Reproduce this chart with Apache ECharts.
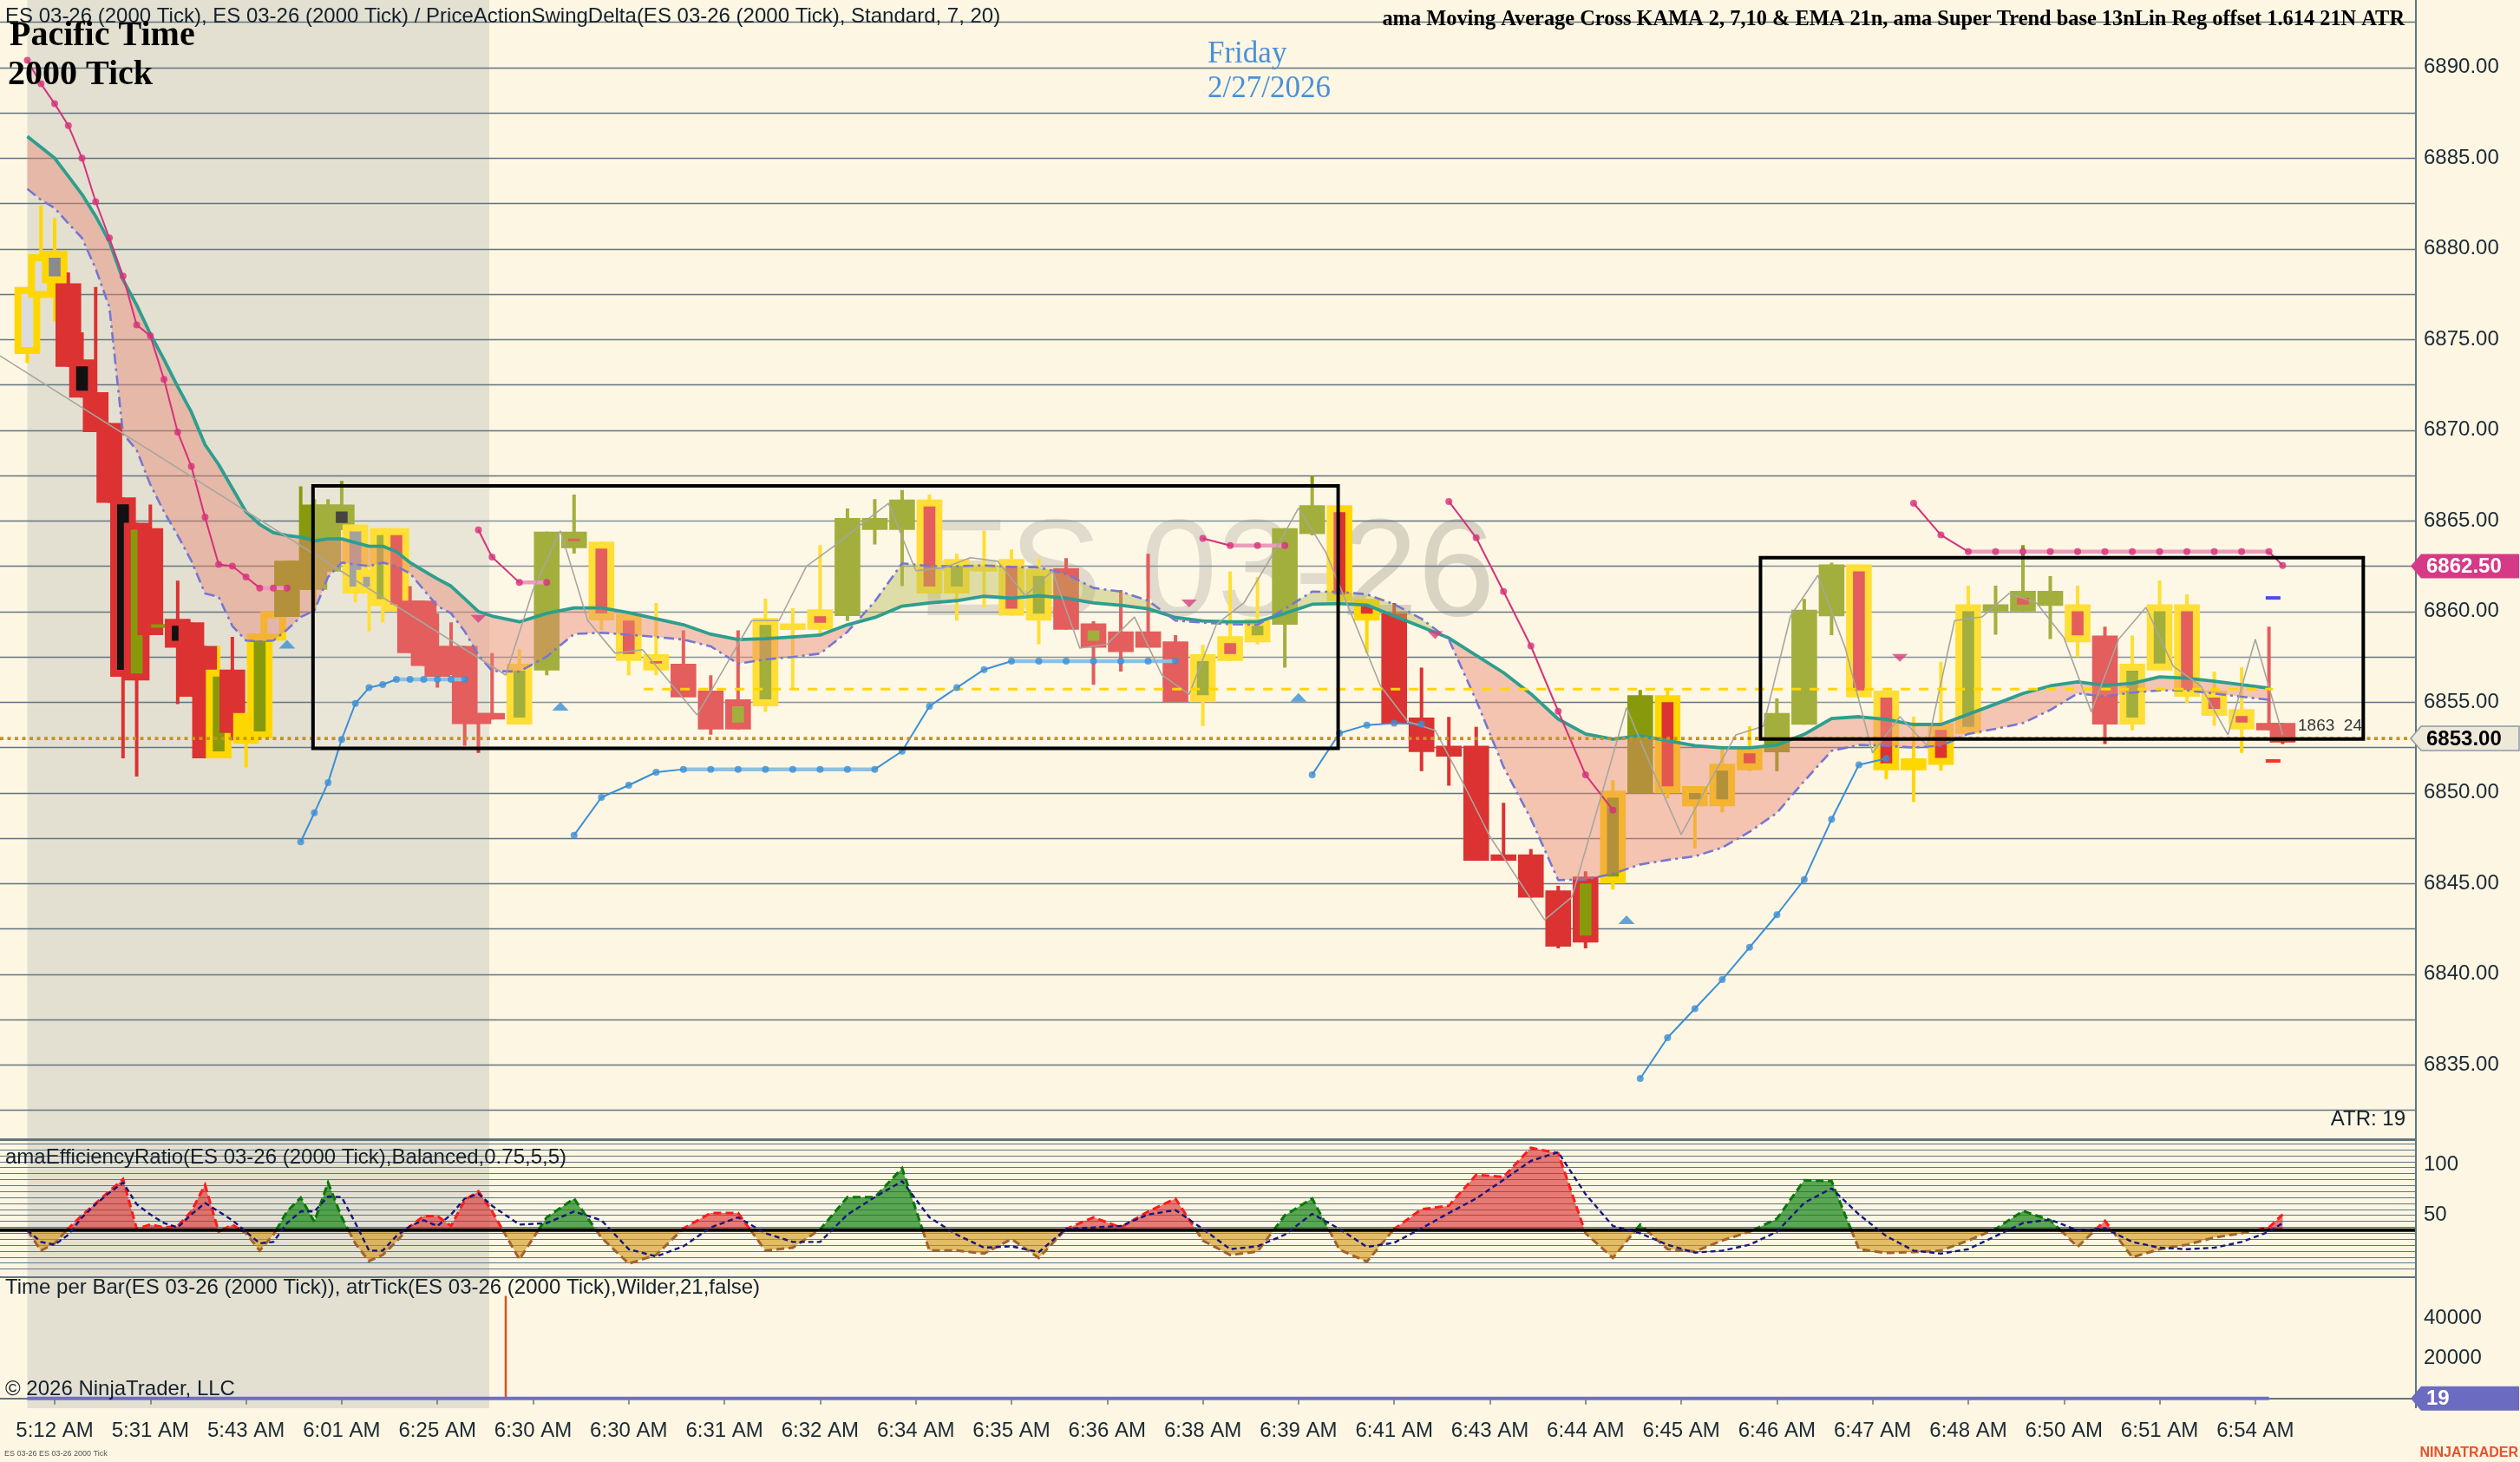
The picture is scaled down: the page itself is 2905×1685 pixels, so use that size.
<!DOCTYPE html>
<html>
<head>
<meta charset="utf-8">
<title>ES 03-26 (2000 Tick)</title>
<script src="https://cdn.jsdelivr.net/npm/echarts@6.0.0/dist/echarts.min.js"></script>
<style>
html,body{margin:0;padding:0;background:#FDF6E3;overflow:hidden;}
#chart{width:2905px;height:1685px;}
</style>
</head>
<body>
<div id="chart"></div>
<script>
// ------------------------------------------------------------------ data
const timeLabels = ['5:12 AM','5:31 AM','5:43 AM','6:01 AM','6:25 AM','6:30 AM','6:30 AM','6:31 AM','6:32 AM','6:34 AM','6:35 AM','6:36 AM','6:38 AM','6:39 AM','6:41 AM','6:43 AM','6:44 AM','6:45 AM','6:46 AM','6:47 AM','6:48 AM','6:50 AM','6:51 AM','6:54 AM'];

// [open, close, low, high]
const ohlc = [
  [6874.2,6877.9,6873.7,6877.9],[6877.3,6879.7,6877.3,6882.4],[6879.9,6878.1,6876.0,6881.7],[6878.1,6873.5,6873.5,6878.7],
  [6873.9,6871.8,6871.8,6875.4],[6872.1,6869.9,6869.9,6877.9],[6870.4,6866.0,6866.0,6870.4],[6866.3,6856.4,6851.9,6866.3],
  [6864.9,6856.2,6850.9,6864.9],[6864.6,6858.7,6858.7,6865.9],[6859.1,6859.3,6859.1,6859.3],[6859.6,6858.0,6854.9,6861.7],
  [6859.4,6855.3,6855.3,6859.4],[6858.1,6851.9,6851.9,6858.1],[6851.9,6856.8,6851.9,6858.1],[6856.8,6853.3,6852.9,6858.6],
  [6852.7,6854.4,6851.4,6854.4],[6853.0,6858.8,6853.0,6858.8],[6858.4,6860.0,6858.4,6860.0],[6859.7,6862.8,6859.7,6862.8],
  [6861.2,6862.8,6861.2,6866.9],[6861.2,6865.9,6860.1,6866.2],[6862.2,6865.9,6862.2,6866.2],[6864.5,6865.9,6864.5,6867.2],
  [6864.8,6861.0,6860.5,6864.8],[6862.3,6861.0,6858.9,6862.3],[6860.3,6864.6,6859.4,6864.6],[6864.6,6860.0,6860.0,6864.6],
  [6860.6,6857.7,6857.7,6861.4],[6860.6,6857.0,6857.0,6860.6],[6858.1,6856.4,6855.8,6859.9],[6858.1,6856.5,6856.5,6859.4],
  [6858.1,6853.8,6852.6,6858.1],[6854.4,6853.8,6852.2,6854.4],
  [6854.4,6854.05,6854.05,6857.7],[6853.77,6857.12,6853.77,6857.92],[6856.75,6864.41,6856.48,6864.41],[6863.5,6864.41,6863.2,6866.45],
  [6863.85,6859.51,6858.96,6863.85],[6859.88,6857.28,6856.48,6859.88],[6857.65,6856.75,6856.48,6860.47],[6857.12,6855.26,6855.26,6858.96],
  [6855.64,6853.5,6853.21,6856.48],[6853.5,6855.16,6853.5,6858.96],[6854.78,6859.64,6854.46,6860.71],[6858.99,6859.35,6855.72,6860.18],
  [6860.12,6859.0,6858.8,6863.66],[6859.75,6865.16,6859.48,6865.69],[6864.5,6865.16,6863.7,6866.2],[6864.5,6866.18,6861.4,6866.7],
  [6866.18,6861.0,6861.0,6866.45],[6861.0,6862.9,6859.5,6863.18],[6862.2,6862.6,6860.2,6864.46],[6862.9,6859.78,6859.78,6863.42],
  [6859.5,6862.35,6858.2,6862.94],[6862.38,6859.0,6859.0,6862.94],[6858.0,6859.35,6855.96,6859.46],[6858.9,6857.76,6856.69,6861.19],
  [6858.9,6858.0,6858.0,6863.18],[6858.35,6855.0,6855.0,6858.7],[6855.0,6857.65,6853.69,6858.16],[6858.64,6857.28,6857.28,6862.2],
  [6858.3,6859.6,6858.2,6861.9],[6859.27,6864.6,6856.9,6864.6],[6864.27,6865.86,6864.2,6867.49],[6865.86,6860.55,6860.55,6865.86],
  [6860.7,6859.5,6857.7,6860.7],[6859.91,6853.8,6853.8,6860.47],[6854.15,6852.25,6851.2,6856.9],[6852.6,6852.0,6850.4,6854.19],
  [6852.6,6846.26,6846.26,6853.64],[6846.6,6846.26,6846.26,6849.45],[6846.6,6844.23,6844.23,6846.9],[6844.62,6841.52,6841.43,6844.87],
  [6841.75,6845.38,6841.43,6845.67],[6845.0,6850.12,6844.67,6850.7],[6849.98,6855.38,6849.98,6855.67],[6855.38,6849.98,6849.69,6855.67],
  [6849.26,6850.37,6846.93,6850.37],[6849.26,6851.6,6848.92,6852.4],[6852.56,6851.25,6851.2,6853.68],[6852.24,6854.4,6851.2,6855.2],
  [6853.76,6860.1,6853.76,6860.7],[6859.74,6862.6,6858.7,6862.69],[6862.6,6855.27,6855.27,6862.6],[6855.64,6851.25,6850.74,6855.64],
  [6851.25,6851.9,6849.5,6854.2],[6853.85,6851.54,6851.22,6857.23],[6853.26,6860.4,6853.26,6861.43],[6860.0,6860.4,6858.72,6861.43],
  [6860.0,6861.14,6860.0,6863.66],[6860.31,6861.14,6858.48,6861.95],[6860.4,6858.3,6857.49,6861.43],[6858.67,6853.77,6852.69,6859.16],
  [6853.77,6857.12,6853.45,6858.68],[6856.75,6860.4,6856.75,6861.71],[6860.4,6855.3,6854.97,6860.95],[6855.64,6854.25,6853.7,6856.69],
  [6854.62,6853.5,6852.2,6856.93],[6853.85,6853.45,6853.45,6859.16],[6853.85,6852.78,6852.69,6853.85]
];
// outline colour + inner colour (R red, G olive, Y yellow, B black, S grey, W light grey)
const barStyles = ['YW','YW','YS','R','RB','R','R','RB','RG','R','G','RB','R','R','YG','R','Y','YG','YW','G','G','G','G','GB','YS','YS','YG','YR','R','R','R','R','R','R',
  'R','YG','G','GR','YR','YR','YR','R','R','RG','YG','Y','YR','G','G','G','YR','YG','Y','YR','YG','R','RG','R','R','R','YG','YR','YG','G','G','YR','YR',
  'R','R','R','R','R','R','R','RG','YG','G','YR','YG','YG','YR','G','G','G','YR','YR','Y','YR','YG','G','GR','G','YR','R','YG','YG','YR','YR','YR','R','R'];

const emaTeal = [6886.2,6885.6,6885.0,6884.0,6883.0,6881.8,6880.4,6878.3,6876.9,6875.3,6873.9,6872.4,6871.0,6869.2,6868.1,6866.8,6865.5,6864.8,6864.35,6864.2,6864.1,6863.9,6864.0,6864.0,6863.8,6863.6,6863.6,6863.3,6862.7,6862.25,6861.8,6861.4,6860.7,6860.0,
  6859.75,6859.43,6859.9,6860.2,6860.2,6859.94,6859.6,6859.27,6858.75,6858.45,6858.5,6858.6,6858.7,6859.27,6859.67,6860.3,6860.47,
  6860.6,6860.84,6860.74,6860.87,6860.74,6860.47,6860.34,6860.15,6859.67,6859.48,6859.43,6859.43,6859.9,6860.4,6860.44,6860.36,6859.75,
  6859.15,6858.54,6857.58,6856.63,6855.46,6854.07,6853.25,6852.96,6853.15,6852.88,6852.6,6852.48,6852.48,6852.64,6853.23,6854.1,6854.2,
  6854.05,6853.77,6853.77,6854.33,6854.9,6855.48,6855.9,6856.12,6855.93,6856.04,6856.4,6856.32,6856.16,6855.96,6855.77,null];
const kamaDash = [6883.3,6882.7,6882.25,6881.4,6880.6,6878.9,6876.8,6869.8,6868.9,6867.0,6865.5,6864.2,6862.8,6861.0,6860.8,6859.2,6858.4,6858.35,6858.4,6859.0,6859.7,6860.05,6861.9,6862.7,6862.6,6862.5,6862.7,6862.5,6862.1,6861.2,6860.3,6859.9,6858.9,6857.6,
  6856.72,6856.69,6857.52,6858.76,6858.83,6858.72,6858.6,6858.45,6858.08,6857.12,6857.36,6857.49,6857.68,6858.88,6860.55,6862.66,6862.5,
  6862.5,6862.54,6862.46,6862.43,6862.07,6861.3,6861.1,6860.6,6859.5,6859.39,6859.3,6859.27,6860.15,6861.1,6861.08,6860.95,6860.4,
  6859.6,6858.46,6855.1,6851.44,6848.57,6845.19,6845.22,6845.54,6846.05,6846.3,6846.5,6846.98,6847.85,6848.9,6850.65,6852.32,6852.64,
  6852.6,6852.5,6852.6,6853.25,6853.53,6853.85,6854.57,6855.48,6855.33,6855.53,6855.65,6855.65,6855.48,6855.3,6855.13,null];

const superTrendUpper = [6890.4,6889.1,6888.0,6886.8,6885.0,6882.6,6880.6,6878.5,6875.8,6875.2,6872.8,6869.9,6868.0,6865.2,6862.6,6862.5,6861.9,6861.3,6861.3,6861.3,
  null,null,null,null,null,null,null,null,null,null,null,null,null,6864.5,
  6863.0,6861.6,6861.6,null,null,null,null,null,null,null,null,null,null,null,null,null,null,
  null,null,null,null,null,null,null,null,null,6864.03,6863.64,6863.64,6863.64,null,null,null,null,
  null,6866.07,6864.07,6861.1,6858.1,6854.5,6851.0,6849.05,null,null,null,null,null,null,null,null,null,
  null,6865.97,6864.22,6863.3,6863.3,6863.3,6863.3,6863.3,6863.3,6863.3,6863.3,6863.3,6863.3,6863.3,6863.3,6862.54];
const superTrendLower = [null,null,null,null,null,null,null,null,null,null,null,null,null,null,null,null,null,null,null,null,
  6847.3,6848.9,6850.56,6852.95,6854.93,6855.8,6855.97,6856.26,6856.26,6856.26,6856.26,6856.26,6856.26,null,
  null,null,null,6847.66,6849.75,6850.42,6851.14,6851.3,6851.3,6851.3,6851.3,6851.3,6851.3,6851.3,6851.3,6852.3,6854.78,
  6855.8,6856.8,6857.26,6857.26,6857.26,6857.26,6857.26,6857.26,6857.26,null,null,null,null,6851.0,6853.29,6853.74,6853.84,
  6853.8,null,null,null,null,null,null,null,6834.25,6836.5,6838.1,6839.7,6841.48,6843.28,6845.22,6848.54,6851.55,
  6851.89,null,null,null,null,null,null,null,null,null,null,null,null,null,null,null];

// second data series (line on close) – its bars fall between the primary bars in the session
const secondaryEntry = 6874.1;
const secondaryClose = [6856.5,6861.2,6864.45,6859.5,6857.7,6857.9,6856.1,6854.3,6856.9,6859.5,6859.5,6862.5,6863.6,6864.8,6865.97,6862.25,6862.4,
  6862.97,6862.77,6860.87,6862.24,6857.98,6858.2,6859.7,6856.5,6855.44,6859.3,6860.47,6863.0,6865.7,6863.26,6859.6,6855.9,6853.93,
  6853.45,6850.6,6847.6,6845.3,6843.0,6844.25,6849.45,6854.7,6851.1,6847.7,6850.5,6853.2,6853.67,6859.75,6862.0,6858.0,6852.2,
  6854.2,6852.6,6859.5,6859.7,6861.0,6860.47,6858.55,6854.46,6858.47,6860.23,6856.98,6855.9,6853.2,6858.47,6853.2];

const buySignals = [[19,6858.2],[39,6854.78],[93,6855.26],[117,6843.0]];
const sellSignals = [[33,6859.6],[85,6860.44],[103,6858.7],[137,6857.44]];

const erValues = [35.1,15,22.2,37,50,62,74,85.9,36.5,40.8,38,39.4,53.8,80.2,33.7,40.8,32.2,15,30.8,53.8,67.5,43.7,82.5,48,22,4.6,10.7,24,39,49.4,49.4,39.4,65.2,73.8,
  54,6.4,48,66.6,27.9,2.1,10.7,37,52.3,52.3,15,17.9,36,68,68,96.7,15,
  15,12.1,26.5,7.8,36.5,48,38,53.8,66.6,25,10.7,14,50,66.7,15.9,4,36.5,
  56,59.5,90.2,88.2,116.9,111.7,32.2,7.8,40.8,16.4,14.1,25,33.7,46.6,84.8,83.9,16.4,
  12.7,13.6,15,25,36.5,54.3,45.1,18.7,44.6,8.4,16.4,20.8,28,32.2,38,50.9];
const erSignal = [35.1,23.6,20.8,30.8,48,61,72.4,82.5,61,50.8,42.3,38,50.8,62.3,53.8,45.1,33.7,22.2,23.6,42.3,53.8,53.8,68.7,68,42.3,15,15,29.4,39.4,45.1,39.4,50.8,66.6,71.5,
  59.5,40.8,42.3,53.8,45.1,16.4,9.2,19.3,38,48,32.2,23.6,23.6,50.8,68,83.9,48,
  30.8,17.9,19.3,13.5,36.5,38,39.4,50.8,55.2,36.5,16.4,19.3,30.8,51.5,36.5,18.7,22.8,
  37.1,52.3,66.7,85.3,104,112.6,71,39.4,32.2,20.8,13,15,20.8,33.7,62.4,76.7,50.9,
  29.4,15,12.1,16.4,29.4,42.3,45.7,35.1,37.1,23.6,17.9,16.4,17.9,23.6,33.7,42.3];
const erTrend = 'ddddddddddddddddd' + 'uuuuuuu' + 'ddddddddddd' + 'uuuuuu' + 'ddddd' + 'uuuuu' + 'ddddddddd' + 'uuuuuu' + 'ddddddddd' + 'uuuuuuuuuuuuuuuuu' + 'ddddddddd';
const erBaseline = 35.4;

// [fromSlot, toSlot, top, bottom]
const rangeBoxes = [[20.9,95.9,6866.93,6852.45],[126.8,170.9,6862.97,6852.97]];
const swingLevel = [45.1,164.3,6855.72];
const lastPrice = 6853.0;
const superTrendLast = 6862.5;
const lastBarTargets = [6860.75,6851.76];
const sessionOpenBarSeconds = 51000;
const atrTicks = 19;
const premarketBars = 34;
const sessionBreakSlot = 33.8;

// ------------------------------------------------------------------ helpers
const FONT = '"Liberation Sans", Arial, sans-serif';
const SERIF = '"Liberation Serif", "Times New Roman", serif';
const GRIDC = '#61757F';
const TXT = '#1C2A35';
const XMIN = -2, XMAX = 174.75;

function slotOf(i){
  if (i < premarketBars) return i;
  const s = premarketBars + 2 * (i - premarketBars);
  return i === ohlc.length - 1 ? s - 1 : s;
}
const xs = ohlc.map((_, i) => slotOf(i));
const labelSlots = timeLabels.map((_, k) => 2 + 7 * k);
const labelBySlot = {};
labelSlots.forEach((s, k) => { labelBySlot[s] = timeLabels[k]; });

const PAL = {R:'#DC3232', G:'#889A0B', Y:'#FFD700', B:'#111111', S:'#8A8A8A', W:'#DCDCDC'};

function renderCandle(params, api){
  const i = api.value(5);
  const st = barStyles[i];
  const x = api.value(0), o = api.value(1), c = api.value(2), lo = api.value(3), hi = api.value(4);
  const pT = api.coord([x, Math.max(o, c)]), pB = api.coord([x, Math.min(o, c)]);
  const pH = api.coord([x, hi]), pL = api.coord([x, lo]);
  const bw = api.size([1.88, 0])[0];
  const cx = pT[0];
  const h = Math.max(pB[1] - pT[1], 3);
  const outer = PAL[st[0]];
  const kids = [
    {type:'rect', shape:{x:cx - 2, y:pH[1], width:4, height:Math.max(pL[1] - pH[1], 1)}, style:{fill:outer}},
    {type:'rect', shape:{x:cx - bw / 2, y:pT[1], width:bw, height:h}, style:{fill:outer}}
  ];
  if (st.length > 1 && h > 16) {
    kids.push({type:'rect', shape:{x:cx - bw / 2 + 8, y:pT[1] + 8, width:bw - 16, height:h - 16}, style:{fill:PAL[st[1]]}});
  }
  return {type:'group', children:kids};
}

function buildBand(a, b){
  const runs = []; let cur = null;
  const close = () => { if (cur) { runs.push(cur); cur = null; } };
  for (let i = 0; i < xs.length - 1; i++) {
    const a0 = a[i], a1 = a[i+1], b0 = b[i], b1 = b[i+1];
    if (a0 == null || a1 == null || b0 == null || b1 == null) { close(); continue; }
    const x0 = xs[i], x1 = xs[i+1], d0 = a0 - b0, d1 = a1 - b1;
    const k0 = d0 >= 0 ? 'bear' : 'bull', k1 = d1 >= 0 ? 'bear' : 'bull';
    if (!cur || cur.kind !== k0) { close(); cur = {kind:k0, top:[[x0, a0]], bot:[[x0, b0]]}; }
    if (k0 === k1) { cur.top.push([x1, a1]); cur.bot.push([x1, b1]); }
    else {
      const t = d0 / (d0 - d1), xm = x0 + t * (x1 - x0), ym = a0 + t * (a1 - a0);
      cur.top.push([xm, ym]); cur.bot.push([xm, ym]); close();
      cur = {kind:k1, top:[[xm, ym], [x1, a1]], bot:[[xm, ym], [x1, b1]]};
    }
  }
  close();
  return runs;
}
const bandRuns = buildBand(emaTeal, kamaDash);
const BANDC = {bear:'rgba(232,136,116,0.45)', bull:'rgba(180,186,80,0.42)'};

function buildER(){
  const runs = []; let cur = null;
  const close = () => { if (cur) { runs.push(cur); cur = null; } };
  for (let i = 0; i < xs.length - 1; i++) {
    const x0 = xs[i], x1 = xs[i+1], v0 = erValues[i], v1 = erValues[i+1];
    const up0 = v0 >= erBaseline, up1 = v1 >= erBaseline;
    if (up0 === up1) {
      const k = up0 ? erTrend[v0 >= v1 ? i : i + 1] : 't';
      if (!cur || cur.kind !== k) { close(); cur = {kind:k, pts:[[x0, v0]]}; }
      cur.pts.push([x1, v1]);
    } else {
      const t = (v0 - erBaseline) / (v0 - v1), xm = x0 + t * (x1 - x0);
      const kA = up0 ? erTrend[i] : 't', kB = up1 ? erTrend[i+1] : 't';
      if (!cur || cur.kind !== kA) { close(); cur = {kind:kA, pts:[[x0, v0]]}; }
      cur.pts.push([xm, erBaseline]); close();
      cur = {kind:kB, pts:[[xm, erBaseline], [x1, v1]]};
    }
  }
  close();
  return runs;
}
const erRuns = buildER();
const ERC = {
  d:{fill:'rgba(218,40,40,0.6)', edge:'#FF1A1A'},
  u:{fill:'rgba(22,132,22,0.7)', edge:'#0A760A'},
  t:{fill:'rgba(212,152,24,0.62)', edge:'#A2622E'}
};

function segList(arr){
  const out = [];
  for (let i = 0; i < arr.length - 1; i++) {
    if (arr[i] != null && arr[i+1] != null) out.push([xs[i], arr[i], xs[i+1], arr[i+1]]);
  }
  return out;
}
function dotList(arr){
  const out = [];
  arr.forEach((v, i) => { if (v != null) out.push([xs[i], v]); });
  return out;
}
function segRenderer(dark, light){
  return (params, api) => {
    const p0 = api.coord([api.value(0), api.value(1)]), p1 = api.coord([api.value(2), api.value(3)]);
    const flat = Math.abs(api.value(1) - api.value(3)) < 0.02;
    return {type:'line', shape:{x1:p0[0], y1:p0[1], x2:p1[0], y2:p1[1]},
      style:{stroke: flat ? light : dark, lineWidth: flat ? 4.5 : 2}};
  };
}
function lineData(arr){
  const out = [];
  arr.forEach((v, i) => { if (v != null) out.push([xs[i], v]); });
  return out;
}

// ------------------------------------------------------------------ chart
const chart = echarts.init(document.getElementById('chart'), null, {width:2905, height:1685});

const xAxisBase = {type:'value', min:XMIN, max:XMAX, splitLine:{show:false}};
const option = {
  backgroundColor:'#FDF6E3',
  animation:false,
  grid:[
    {left:0, right:120, top:25.55, height:1254},
    {left:0, right:120, top:1314, height:148.54},
    {left:0, right:120, top:1474, height:149}
  ],
  xAxis:[
    Object.assign({gridIndex:0, show:false}, xAxisBase),
    Object.assign({gridIndex:1, show:false}, xAxisBase),
    Object.assign({gridIndex:2,
      axisLine:{show:true, lineStyle:{color:GRIDC, width:2}},
      axisTick:{show:true, length:7, customValues:labelSlots, lineStyle:{color:GRIDC, width:1.5}},
      axisLabel:{show:true, customValues:labelSlots, formatter:v => labelBySlot[Math.round(v)] || '',
        fontSize:24, fontFamily:FONT, color:TXT, margin:14}
    }, xAxisBase)
  ],
  yAxis:[
    {type:'value', gridIndex:0, position:'right', min:6832.5, max:6892.5, interval:2.5,
      axisLine:{show:false}, axisTick:{show:false},
      splitLine:{show:true, lineStyle:{color:GRIDC, width:1.3}},
      axisLabel:{fontSize:24, fontFamily:FONT, color:TXT, margin:9,
        formatter:v => (Math.round(v * 100) % 500 === 0 ? v.toFixed(2) : '')}},
    {type:'value', gridIndex:1, position:'right', min:-3.235, max:124.65, interval:5.915,
      axisLine:{show:false}, axisTick:{show:false},
      splitLine:{show:true, lineStyle:{color:GRIDC, width:1.1}},
      axisLabel:{customValues:[50, 100], formatter:v => String(Math.round(v)), fontSize:24, fontFamily:FONT, color:TXT, margin:9}},
    {type:'value', gridIndex:2, position:'right', min:-4828, max:59400,
      axisLine:{show:false}, axisTick:{show:false}, splitLine:{show:false},
      axisLabel:{customValues:[20000, 40000], formatter:v => String(Math.round(v)), fontSize:24, fontFamily:FONT, color:TXT, margin:9}}
  ],
  series:[
    // candles
    {type:'custom', name:'ES 03-26', xAxisIndex:0, yAxisIndex:0, z:3, clip:true,
      renderItem:renderCandle, encode:{x:0, y:[1,2,3,4]},
      data:ohlc.map((b, i) => [xs[i], b[0], b[1], b[2], b[3], i])},
    // range box fill
    {type:'custom', xAxisIndex:0, yAxisIndex:0, z:4, clip:true, encode:{x:[0,1], y:[2,3]},
      renderItem:(p, api) => {
        const a = api.coord([api.value(0), api.value(2)]), b = api.coord([api.value(1), api.value(3)]);
        return {type:'rect', shape:{x:a[0], y:a[1], width:b[0]-a[0], height:b[1]-a[1]}, style:{fill:'rgba(255,252,242,0.22)'}};
      }, data:rangeBoxes},
    // moving average band
    {type:'custom', xAxisIndex:0, yAxisIndex:0, z:5, clip:true, encode:{x:0, y:1},
      renderItem:(p, api) => {
        const r = bandRuns[api.value(2)];
        const pts = r.top.map(q => api.coord(q)).concat(r.bot.slice().reverse().map(q => api.coord(q)));
        return {type:'polygon', shape:{points:pts}, style:{fill:BANDC[r.kind]}};
      }, data:bandRuns.map((r, i) => [r.top[0][0], r.top[0][1], i])},
    {type:'line', name:'EMA', xAxisIndex:0, yAxisIndex:0, z:6, showSymbol:false, symbol:'none',
      lineStyle:{color:'#2E9E8E', width:3.8}, data:lineData(emaTeal)},
    {type:'line', name:'KAMA', xAxisIndex:0, yAxisIndex:0, z:6, showSymbol:false, symbol:'none',
      lineStyle:{color:'#7676D4', width:2.6, type:[12,5,3,5]}, data:lineData(kamaDash)},
    // secondary series line on close
    {type:'line', name:'ES 03-26 (2)', xAxisIndex:0, yAxisIndex:0, z:7, showSymbol:false, symbol:'none',
      lineStyle:{color:'#A6A69F', width:1.6},
      data:[[XMIN, secondaryEntry]].concat(secondaryClose.map((v, j) => [premarketBars + 1 + 2 * j, v]))},
    // super trend
    {type:'custom', xAxisIndex:0, yAxisIndex:0, z:7, clip:true, encode:{x:[0,2], y:[1,3]},
      renderItem:segRenderer('#D6317A', '#EE9ABB'), data:segList(superTrendUpper)},
    {type:'custom', xAxisIndex:0, yAxisIndex:0, z:7, clip:true, encode:{x:[0,2], y:[1,3]},
      renderItem:segRenderer('#3B8FD6', '#8DC1E3'), data:segList(superTrendLower)},
    {type:'scatter', xAxisIndex:0, yAxisIndex:0, z:8, symbolSize:8, itemStyle:{color:'#D6317A'}, data:dotList(superTrendUpper)},
    {type:'scatter', xAxisIndex:0, yAxisIndex:0, z:8, symbolSize:8, itemStyle:{color:'#3B8FD6'}, data:dotList(superTrendLower)},
    // swing signals
    {type:'scatter', xAxisIndex:0, yAxisIndex:0, z:8, symbol:'triangle', symbolSize:[19,10], itemStyle:{color:'#3A8ED6'}, data:buySignals},
    {type:'scatter', xAxisIndex:0, yAxisIndex:0, z:8, symbol:'triangle', symbolRotate:180, symbolSize:[18,9], itemStyle:{color:'#D6407E'}, data:sellSignals},
    // levels
    {type:'line', xAxisIndex:0, yAxisIndex:0, z:8, showSymbol:false, symbol:'none',
      lineStyle:{color:'#FFD700', width:3, type:[11,10]}, data:[[swingLevel[0], swingLevel[2]], [swingLevel[1], swingLevel[2]]]},
    {type:'line', xAxisIndex:0, yAxisIndex:0, z:8, showSymbol:false, symbol:'none',
      lineStyle:{color:'#C5970F', width:3.6, type:[4,4.5]}, data:[[XMIN, lastPrice], [XMAX, lastPrice]]},
    // range box outline
    {type:'custom', xAxisIndex:0, yAxisIndex:0, z:9, clip:true, encode:{x:[0,1], y:[2,3]},
      renderItem:(p, api) => {
        const a = api.coord([api.value(0), api.value(2)]), b = api.coord([api.value(1), api.value(3)]);
        return {type:'rect', shape:{x:a[0], y:a[1], width:b[0]-a[0], height:b[1]-a[1]}, style:{fill:null, stroke:'#000', lineWidth:4}};
      }, data:rangeBoxes},
    // last bar targets
    {type:'scatter', xAxisIndex:0, yAxisIndex:0, z:9, symbol:'rect', symbolSize:[17,4],
      data:[{value:[164.3, lastBarTargets[0]], itemStyle:{color:'#2222E6'}}, {value:[164.3, lastBarTargets[1]], itemStyle:{color:'#FF0000'}}]},

    // efficiency ratio
    {type:'custom', xAxisIndex:1, yAxisIndex:1, z:3, clip:true, encode:{x:0, y:1},
      renderItem:(p, api) => {
        const r = erRuns[api.value(2)];
        const pts = r.pts.map(q => api.coord(q));
        const poly = pts.concat([api.coord([r.pts[r.pts.length-1][0], erBaseline]), api.coord([r.pts[0][0], erBaseline])]);
        return {type:'group', children:[
          {type:'polygon', shape:{points:poly}, style:{fill:ERC[r.kind].fill}},
          {type:'polyline', shape:{points:pts}, style:{fill:null, stroke:ERC[r.kind].edge, lineWidth:3, lineDash:[9,5]}}
        ]};
      }, data:erRuns.map((r, i) => [r.pts[0][0], r.pts[0][1], i])},
    {type:'line', xAxisIndex:1, yAxisIndex:1, z:4, showSymbol:false, symbol:'none',
      lineStyle:{color:'#000', width:4}, data:[[XMIN, erBaseline], [XMAX, erBaseline]]},
    {type:'line', name:'ER signal', xAxisIndex:1, yAxisIndex:1, z:5, showSymbol:false, symbol:'none',
      lineStyle:{color:'#16167E', width:2.4, type:[6,4]}, data:erSignal.map((v, i) => [xs[i], v])},

    // time per bar / atr
    {type:'bar', xAxisIndex:2, yAxisIndex:2, z:3, barWidth:2.5, itemStyle:{color:'#D9521F'},
      data:[[premarketBars + 1, sessionOpenBarSeconds]]},
    {type:'line', xAxisIndex:2, yAxisIndex:2, z:4, showSymbol:false, symbol:'none',
      lineStyle:{color:'#6E6EC8', width:4}, data:[[xs[0], atrTicks], [xs[xs.length - 2], atrTicks]]}
  ]
};
chart.setOption(option);

// ------------------------------------------------------------------ decorations
const P = (x, y, g) => chart.convertToPixel({gridIndex:g || 0}, [x, y]);
const xStart = P(xs[0], 6860)[0], xBreak = P(sessionBreakSlot, 6860)[0];
const AX = P(XMAX, 6860)[0];
const yST = P(0, superTrendLast)[1], yLP = P(0, lastPrice)[1], yATR = P(0, atrTicks, 2)[1];
const bottomY = P(0, -4828, 2)[1];

function T(text, x, y, font, fill, align, extra){
  return Object.assign({type:'text', z:100, silent:true,
    style:{text, x, y, font, fill, textAlign:align || 'left', align:align || 'left', textVerticalAlign:'middle', verticalAlign:'middle'}}, extra || {});
}
function badge(y, fill, stroke, color, text){
  return [
    {type:'polygon', z:100, silent:true, shape:{points:[[AX - 6, y], [AX + 6, y - 14], [2904, y - 14], [2904, y + 14], [AX + 6, y + 14]]},
      style:{fill, stroke:stroke || null, lineWidth:stroke ? 1.5 : 0}},
    T(text, AX + 12, y + 1, 'bold 24px ' + FONT, color)
  ];
}

const elements = [
  {type:'rect', z:-100, silent:true, shape:{x:xStart, y:0, width:xBreak - xStart, height:bottomY}, style:{fill:'#E3E0D1'}},
  T('ES 03-26', 1390, 665, '160px ' + FONT, '#D9D3C4', 'center', {z:-50}),
  {type:'line', z:100, silent:true, shape:{x1:AX, y1:0, x2:AX, y2:bottomY}, style:{stroke:GRIDC, lineWidth:2}},
  {type:'line', z:100, silent:true, shape:{x1:0, y1:1313, x2:AX, y2:1313}, style:{stroke:GRIDC, lineWidth:2}},
  {type:'line', z:100, silent:true, shape:{x1:0, y1:1472, x2:AX, y2:1472}, style:{stroke:GRIDC, lineWidth:2}},
  T('ES 03-26 (2000 Tick), ES 03-26 (2000 Tick) / PriceActionSwingDelta(ES 03-26 (2000 Tick), Standard, 7, 20)', 6, 19, '24px ' + FONT, '#14202A'),
  T('Pacific Time', 11, 42, 'bold 40px ' + SERIF, '#000'),
  T('2000 Tick', 9, 87, 'bold 40px ' + SERIF, '#000'),
  T('Friday', 1392, 63, '35px ' + SERIF, '#4A90D9'),
  T('2/27/2026', 1392, 103, '35px ' + SERIF, '#4A90D9'),
  T('ama Moving Average Cross KAMA 2, 7,10 & EMA 21n, ama Super Trend base 13nLin Reg offset 1.614 21N ATR', 2772, 23, 'bold 24.4px ' + SERIF, '#000', 'right'),
  T('ATR: 19', 2773, 1290, '24px ' + FONT, '#14202A', 'right'),
  T('amaEfficiencyRatio(ES 03-26 (2000 Tick),Balanced,0.75,5,5)', 6, 1334, '24px ' + FONT, '#14202A'),
  T('Time per Bar(ES 03-26 (2000 Tick)), atrTick(ES 03-26 (2000 Tick),Wilder,21,false)', 6, 1484, '24px ' + FONT, '#14202A'),
  T('\u00A9 2026 NinjaTrader, LLC', 6, 1601, '24px ' + FONT, '#14202A'),
  T('1863  24', 2649, 837, '19px ' + FONT, '#333333'),
  T('ES 03-26 ES 03-26 2000 Tick', 5, 1676, '9px ' + FONT, '#555555'),
  T('NINJATRADER', 2903, 1675, 'bold 16px ' + FONT, '#E8502A', 'right')
].concat(
  badge(yST, '#D63A86', null, '#FFFFFF', superTrendLast.toFixed(2)),
  badge(yLP, '#EEE8D8', '#8A9AA6', '#000000', lastPrice.toFixed(2)),
  badge(yATR, '#6B6BC1', null, '#FFFFFF', String(atrTicks))
);
chart.setOption({graphic:{elements}});
</script>
</body>
</html>
